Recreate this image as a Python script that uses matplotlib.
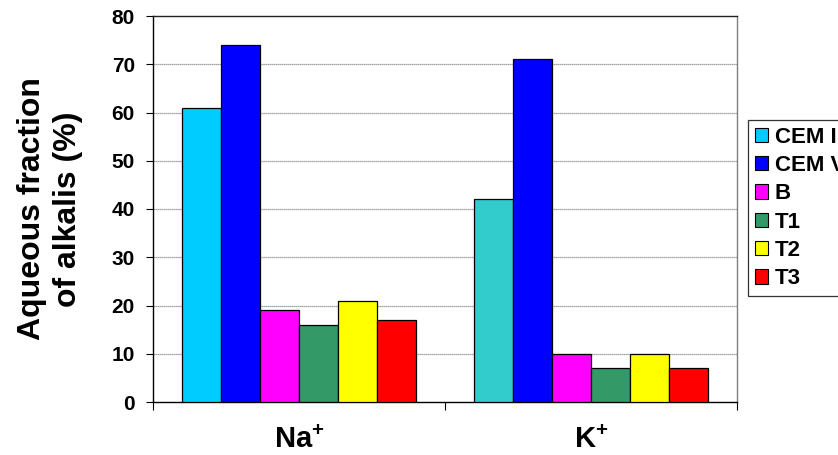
import numpy as np
import matplotlib
matplotlib.use("Agg")
from matplotlib import pyplot as plt
from matplotlib.patches import Patch

plt.rcParams['font.family'] = ['Liberation Sans', 'DejaVu Sans']
plt.rcParams['font.weight'] = 'bold'
plt.rcParams['mathtext.fontset'] = 'custom'
plt.rcParams['mathtext.rm'] = 'Liberation Sans:bold'
plt.rcParams['mathtext.it'] = 'Liberation Sans:bold'
plt.rcParams['mathtext.bf'] = 'Liberation Sans:bold'
plt.rcParams['mathtext.default'] = 'regular'

# data
ions = ["Na$^{+}$", "K$^{+}$"]
series = ["CEM I", "CEM V", "B", "T1", "T2", "T3"]
na_vals = [61, 74, 19, 16, 21, 17]
k_vals = [42, 71, 10, 7, 10, 7]
na_colors = ["#00CCFF", "#0000FF", "#FF00FF", "#339966", "#FFFF00", "#FF0000"]
k_colors = ["#33CCCC", "#0000FF", "#FF00FF", "#339966", "#FFFF00", "#FF0000"]

fig = plt.figure(figsize=(8.38, 4.55), dpi=100)
ax = fig.add_axes([153/838, 1 - 402/455, (737 - 153)/838, (402 - 16)/455])

width = 0.134
x = np.arange(len(ions))
for j in range(len(series)):
    off = (j - 2.5) * width
    ax.bar(x[0] + off, na_vals[j], width, color=na_colors[j], edgecolor="black", linewidth=0.9, zorder=3)
    ax.bar(x[1] + off, k_vals[j], width, color=k_colors[j], edgecolor="black", linewidth=0.9, zorder=3)

ax.set_xlim(-0.5, 1.5)
ax.set_ylim(0, 80)
ax.set_yticks(range(0, 81, 10))
ax.tick_params(axis="y", labelsize=15, direction="out", length=5, width=0.8, pad=8)
ax.set_xticks(x)
ax.set_xticklabels(ions, fontsize=21)
ax.tick_params(axis="x", length=0, pad=17)
ax.set_xticks([-0.5, 0.5, 1.5], minor=True)
ax.tick_params(axis="x", which="minor", direction="out", length=6, width=0.8)

# dotted horizontal grid
for yv in range(10, 80, 10):
    ax.axhline(yv, color="#888888", linestyle=(0, (1, 0.6)), linewidth=0.9, zorder=1)

ax.spines["left"].set_color("black")
ax.spines["bottom"].set_color("black")
ax.spines["top"].set_color("#222222")
ax.spines["right"].set_color("#808080")
for s in ax.spines.values():
    s.set_linewidth(1.0)

fig.text(50/838, 1 - 209/455, "Aqueous fraction\nof alkalis (%)", rotation=90,
         ha="center", va="center", fontsize=23, fontweight="bold", linespacing=1.25,
         multialignment="center")

handles = [Patch(facecolor=na_colors[j], edgecolor="black", linewidth=0.8) for j in range(len(series))]
leg = fig.legend(handles, series, loc="upper left", bbox_to_anchor=(748/838, 1 - 120/455),
                 fontsize=16, frameon=True, fancybox=False, handlelength=0.6, handleheight=0.6,
                 handletextpad=0.3, labelspacing=0.33, borderpad=0.3, borderaxespad=0)
leg.get_frame().set_edgecolor("black")
leg.get_frame().set_linewidth(0.9)

fig.savefig("out.png", dpi=100)
